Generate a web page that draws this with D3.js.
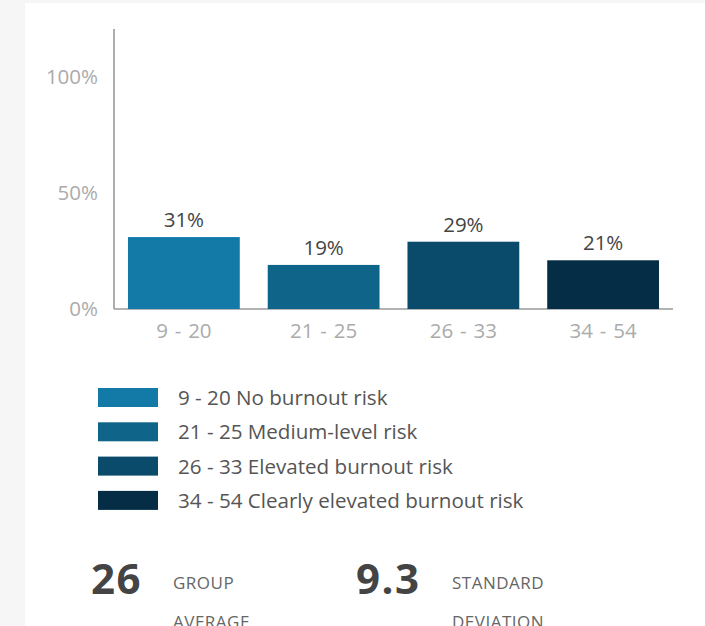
<!DOCTYPE html>
<html>
<head>
<meta charset="utf-8">
<script src="https://cdn.jsdelivr.net/npm/d3@7"></script>
<style>
  html, body { margin: 0; padding: 0; background: #f6f6f6; }
  svg { display: block; font-family: "Open Sans", sans-serif; }
</style>
</head>
<body>
<svg id="chart" width="705" height="626"></svg>
<script>
// Burnout score bands and the share of respondents in each
const categories = ["9 - 20", "21 - 25", "26 - 33", "34 - 54"];
const shares = [31, 19, 29, 21];
const legendLabels = [
  "9 - 20 No burnout risk",
  "21 - 25 Medium-level risk",
  "26 - 33 Elevated burnout risk",
  "34 - 54 Clearly elevated burnout risk"
];
const colors = ["#137aa8", "#0f648a", "#0a4a6a", "#052d45"];
const yTicks = [0, 50, 100];
const stats = [
  { value: "26", lines: ["GROUP", "AVERAGE"] },
  { value: "9.3", lines: ["STANDARD", "DEVIATION"] }
];

const svg = d3.select("#chart");

// white card
svg.append("rect").attr("x", 25).attr("y", 3).attr("width", 705).attr("height", 640).attr("fill", "#fff");

const x = d3.scaleBand().domain(categories).range([114, 673]).paddingInner(0.2).paddingOuter(0.1);
const y = d3.scaleLinear().domain([0, 100]).range([309, 77]);

// axis lines
svg.append("line").attr("x1", 114).attr("x2", 114).attr("y1", 29).attr("y2", y(0))
  .attr("stroke", "#9a9a9a").attr("stroke-width", 1.6);
svg.append("line").attr("x1", 114).attr("x2", 673).attr("y1", y(0)).attr("y2", y(0))
  .attr("stroke", "#9a9a9a").attr("stroke-width", 1.6);

const yAxis = d3.axisLeft(y).tickValues(yTicks).tickSize(0).tickPadding(16).tickFormat(d => d + "%");
const gy = svg.append("g").attr("transform", "translate(114,0)").call(yAxis);
gy.select(".domain").remove();
gy.selectAll("text").attr("fill", "#ababab").attr("font-size", 20.5)
  .attr("font-family", "Open Sans");

const xAxis = d3.axisBottom(x).tickSize(0).tickPadding(14);
const gx = svg.append("g").attr("transform", `translate(0,${y(0)})`).call(xAxis);
gx.select(".domain").remove();
gx.selectAll("text").attr("fill", "#ababab").attr("font-size", 20.5)
  .attr("font-family", "Open Sans").attr("word-spacing", 1.5);

// bars
svg.selectAll("rect.bar").data(shares).join("rect")
  .attr("class", "bar")
  .attr("x", (d, i) => x(categories[i]))
  .attr("width", x.bandwidth())
  .attr("y", d => y(d))
  .attr("height", d => y(0) - y(d))
  .attr("fill", (d, i) => colors[i]);

// value labels
svg.selectAll("text.val").data(shares).join("text")
  .attr("class", "val")
  .attr("x", (d, i) => x(categories[i]) + x.bandwidth() / 2)
  .attr("y", d => y(d) - 10)
  .attr("text-anchor", "middle")
  .attr("fill", "#444")
  .attr("font-size", 20.5)
  .text(d => d + "%");

// legend
const lg = svg.append("g").attr("transform", "translate(98,388)");
legendLabels.forEach((t, i) => {
  lg.append("rect").attr("x", 0).attr("y", i * 34.3).attr("width", 60).attr("height", 19).attr("fill", colors[i]);
  lg.append("text").attr("x", 80).attr("y", i * 34.3 + 17).attr("fill", "#555").attr("font-size", 20.6)
    .text(t);
});

// summary statistics
const sx = [91, 356];
stats.forEach((s, i) => {
  svg.append("text").attr("x", sx[i]).attr("y", 594).attr("font-size", 42).attr("font-weight", 700)
    .attr("letter-spacing", 1.5).attr("fill", "#444").text(s.value);
  s.lines.forEach((l, j) => {
    svg.append("text").attr("x", sx[i] + (i === 0 ? 82 : 96)).attr("y", 589 + j * 39)
      .attr("font-size", 17).attr("fill", "#666").attr("letter-spacing", 0.5).text(l);
  });
});
</script>
</body>
</html>
